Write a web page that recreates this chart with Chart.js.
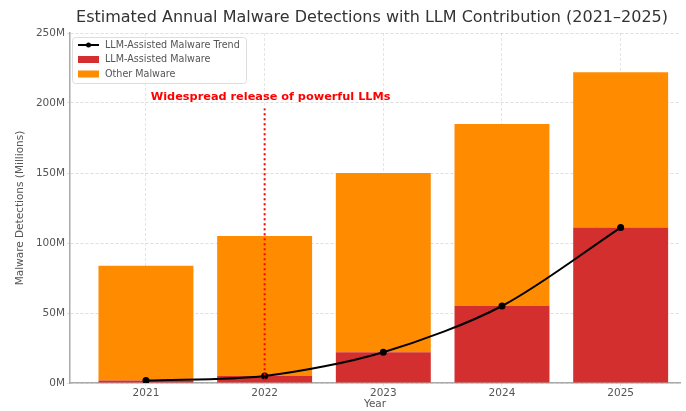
<!DOCTYPE html>
<html>
<head>
<meta charset="utf-8">
<script src="https://cdn.jsdelivr.net/npm/chart.js@4.4.1/dist/chart.umd.min.js"></script>
<style>
  html, body { margin: 0; padding: 0; background: #fff; }
  #wrap { width: 686px; height: 411px; position: relative; }
</style>
</head>
<body>
<div id="wrap"><canvas id="myChart"></canvas></div>
<script>
// data, in millions
const years = [2021, 2022, 2023, 2024, 2025];
const llmMalware = [1.7, 5, 22, 55, 111];
const otherMalware = [82, 100, 128, 130, 111];
const yTicks = [0, 50, 100, 150, 200, 250];

const titleText = 'Estimated Annual Malware Detections with LLM Contribution (2021\u20132025)';
const noteText = 'Widespread release of powerful LLMs';
const noteYear = 2022;

const FONT = '"DejaVu Sans", sans-serif';

// title, legend box and the red release marker
const decorPlugin = {
  id: 'decor',
  afterDatasetsDraw(chart) {
    const ctx = chart.ctx;
    const x = chart.scales.x, y = chart.scales.y;
    const px = x.getPixelForValue(noteYear);
    ctx.save();
    ctx.strokeStyle = '#ff0000';
    ctx.lineWidth = 2;
    ctx.setLineDash([2, 3]);
    ctx.beginPath();
    ctx.moveTo(px, y.getPixelForValue(2));
    ctx.lineTo(px, y.getPixelForValue(196));
    ctx.stroke();
    ctx.restore();
  },
  afterDraw(chart) {
    const ctx = chart.ctx;
    const x = chart.scales.x, y = chart.scales.y;
    ctx.save();
    // title
    ctx.fillStyle = '#333';
    ctx.font = '16px ' + FONT;
    ctx.textAlign = 'center';
    ctx.textBaseline = 'middle';
    ctx.fillText(titleText, 372, 18);

    // note
    ctx.fillStyle = '#ff0000';
    ctx.font = 'bold 11.3px ' + FONT;
    ctx.fillText(noteText, x.getPixelForValue(noteYear) + 6, y.getPixelForValue(204));

    // legend
    const lx = 72, ly = 37, lw = 174, lh = 46;
    ctx.fillStyle = 'rgba(255,255,255,0.85)';
    ctx.strokeStyle = '#ddd';
    ctx.lineWidth = 1;
    ctx.beginPath();
    ctx.roundRect(lx + 0.5, ly + 0.5, lw, lh, 3);
    ctx.fill();
    ctx.stroke();

    ctx.font = '9.6px ' + FONT;
    ctx.textAlign = 'left';
    const rows = [
      { text: 'LLM-Assisted Malware Trend', kind: 'line', color: '#000' },
      { text: 'LLM-Assisted Malware', kind: 'box', color: '#d32f2f' },
      { text: 'Other Malware', kind: 'box', color: '#ff8c00' }
    ];
    rows.forEach((r, i) => {
      const cy = ly + 8 + i * 14.5;
      if (r.kind === 'line') {
        ctx.strokeStyle = r.color;
        ctx.lineWidth = 2;
        ctx.beginPath();
        ctx.moveTo(lx + 6, cy);
        ctx.lineTo(lx + 27, cy);
        ctx.stroke();
        ctx.fillStyle = r.color;
        ctx.beginPath();
        ctx.arc(lx + 16.5, cy, 2.5, 0, Math.PI * 2);
        ctx.fill();
      } else {
        ctx.fillStyle = r.color;
        ctx.fillRect(lx + 6, cy - 3.5, 21, 7);
      }
      ctx.fillStyle = '#555';
      ctx.fillText(r.text, lx + 33, cy);
    });
    ctx.restore();
  }
};

const ctx = document.getElementById('myChart').getContext('2d');
const myChart = new Chart(ctx, {
  type: 'bar',
  data: {
    datasets: [{
      type: 'line',
      label: 'LLM-Assisted Malware Trend',
      data: years.map((yr, i) => ({ x: yr, y: llmMalware[i] })),
      borderColor: '#000',
      backgroundColor: '#000',
      borderWidth: 2,
      pointRadius: 2.5,
      tension: 0.3,
      stack: 'trend',
      order: 0
    },
    {
      label: 'LLM-Assisted Malware',
      data: years.map((yr, i) => ({ x: yr, y: llmMalware[i] })),
      backgroundColor: '#d32f2f',
      stack: 'malware',
      order: 1
    },
    {
      label: 'Other Malware',
      data: years.map((yr, i) => ({ x: yr, y: otherMalware[i] })),
      backgroundColor: '#ff8c00',
      stack: 'malware',
      order: 1
    }]
  },
  options: {
    responsive: true,
    maintainAspectRatio: false,
    animation: false,
    layout: { padding: { top: 33, left: 14, right: 0, bottom: 0 } },
    datasets: {
      bar: { barPercentage: 0.8, categoryPercentage: 1.0 }
    },
    plugins: {
      legend: { display: false },
      title: { display: false },
      tooltip: { enabled: false }
    },
    scales: {
      x: {
        type: 'linear',
        stacked: true,
        offset: false,
        min: 2020.36,
        max: 2025.5,
        z: 1,
        afterFit(scale) { scale.height = 28; },
        ticks: {
          stepSize: 1,
          includeBounds: false,
          autoSkip: false,
          maxRotation: 0,
          padding: 1,
          color: '#555',
          font: { family: FONT, size: 10.5 },
          callback: v => Number.isInteger(v) ? String(v) : ''
        },
        grid: {
          offset: false,
          color: 'rgba(0,0,0,0.1)',
          lineWidth: 1,
          tickLength: 3
        },
        border: { color: '#aaa', width: 1.5, dash: [3, 2] },
        title: {
          display: true,
          text: 'Year',
          color: '#555',
          font: { family: FONT, size: 10.5 },
          padding: { top: 0, bottom: 0 }
        }
      },
      y: {
        stacked: true,
        min: 0,
        max: 250,
        z: 1,
        afterFit(scale) { scale.width = 56; },
        afterBuildTicks(scale) { scale.ticks = yTicks.map(v => ({ value: v })); },
        ticks: {
          padding: 2,
          color: '#555',
          font: { family: FONT, size: 10.5 },
          callback: v => v + 'M'
        },
        grid: {
          color: 'rgba(0,0,0,0.13)',
          tickLength: 3
        },
        border: { color: '#aaa', width: 1.5, dash: [3, 2] },
        title: {
          display: true,
          text: 'Malware Detections (Millions)',
          color: '#555',
          font: { family: FONT, size: 10.5 },
          padding: { top: 0, bottom: 2 }
        }
      }
    }
  },
  plugins: [decorPlugin]
});
</script>
</body>
</html>
